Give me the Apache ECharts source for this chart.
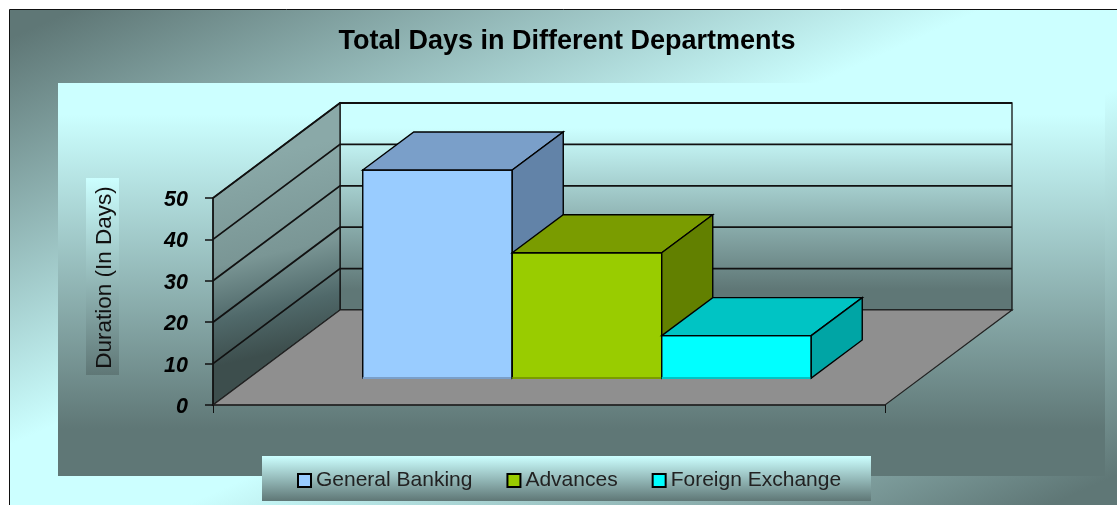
<!DOCTYPE html>
<html>
<head>
<meta charset="utf-8">
<title>Total Days in Different Departments</title>
<script src="https://cdn.jsdelivr.net/npm/echarts@6/dist/echarts.min.js"></script>
<style>
html, body { margin: 0; padding: 0; background: #fff; }
#chart { width: 1117px; height: 505px; }
</style>
</head>
<body>
<div id="chart"></div>
<script>
var categories = ['Departments'];
var yTicks = [0, 10, 20, 30, 40, 50];
var generalBanking = [50];
var advances = [30];
var foreignExchange = [10];

// 3D look of the Excel chart
var DEPTH_X = 127, DEPTH_Y = -95;
var BAR_W = 149.5, BAR_SHIFT_X = 38, BAR_SHIFT_Y = -27, BAR_DX = 51, BAR_DY = -38;
var LIGHT = '#ccffff', DARK = '#5f7776';

var chart = echarts.init(document.getElementById('chart'), null, { renderer: 'canvas' });

function vGrad(y1, y2, stops) {
  return new echarts.graphic.LinearGradient(0, y1, 0, y2, stops || [
    { offset: 0, color: LIGHT }, { offset: 1, color: DARK }
  ], true);
}

// dark in the top left and bottom right corners, light along the other diagonal
function outerGrad(x, y, w, h) {
  var s = 1 / (1 / (w * w) + 1 / (h * h));
  var cx = x + w / 2, cy = y + h / 2;
  return new echarts.graphic.LinearGradient(cx - s / w, cy - s / h, cx + s / w, cy + s / h, [
    { offset: 0, color: DARK }, { offset: 0.03, color: DARK },
    { offset: 0.44, color: LIGHT }, { offset: 0.58, color: LIGHT },
    { offset: 0.97, color: DARK }, { offset: 1, color: DARK }
  ], true);
}

function poly(points, fill, stroke, lw) {
  return {
    type: 'polygon',
    shape: { points: points },
    style: { fill: fill, stroke: stroke || 'none', lineWidth: lw || 1 }
  };
}

function renderPlanes(params, api) {
  var base = api.coord([0, 0]);
  var top = api.coord([0, yTicks[yTicks.length - 1]]);
  var half = api.size([1, 0])[0] / 2;
  var l = base[0] - half, r = base[0] + half, b = base[1], t = top[1];
  var dx = DEPTH_X, dy = DEPTH_Y;
  var wallGrad = new echarts.graphic.LinearGradient(l + 40, t - 40, l + 95, b - 10, [
    { offset: 0, color: '#8aa9a8' }, { offset: 0.4, color: '#7a9695' },
    { offset: 0.62, color: '#50696a' }, { offset: 0.8, color: '#3d4e4d' }, { offset: 1, color: '#3d4e4d' }
  ], true);
  return {
    type: 'group',
    children: [
      poly([[l + dx, t + dy], [r + dx, t + dy], [r + dx, b + dy], [l + dx, b + dy]],
        vGrad(t + dy, b + dy, [
          { offset: 0, color: LIGHT }, { offset: 0.12, color: LIGHT },
          { offset: 0.9, color: DARK }, { offset: 1, color: DARK }
        ]), '#111', 1.3),
      poly([[l, t], [l + dx, t + dy], [l + dx, b + dy], [l, b]], wallGrad, '#111', 1.2),
      poly([[l, b], [r, b], [r + dx, b + dy], [l + dx, b + dy]], '#8f8f8f', '#222', 1.2)
    ]
  };
}

function renderGrid(params, api) {
  var p = api.coord([0, api.value(1)]);
  var half = api.size([1, 0])[0] / 2;
  var l = p[0] - half, r = p[0] + half;
  return {
    type: 'polyline',
    shape: { points: [[l, p[1]], [l + DEPTH_X, p[1] + DEPTH_Y], [r + DEPTH_X, p[1] + DEPTH_Y]] },
    style: { fill: 'none', stroke: '#111', lineWidth: 1.8 }
  };
}

function barRenderer(index, front, topColor, side) {
  return function (params, api) {
    var zero = api.coord([api.value(0), 0]);
    var val = api.coord([api.value(0), api.value(1)]);
    var x0 = zero[0] + BAR_SHIFT_X + (index - 1.5) * BAR_W;
    var x1 = x0 + BAR_W;
    var y0 = zero[1] + BAR_SHIFT_Y;
    var y1 = val[1] + BAR_SHIFT_Y - 1;
    var dx = BAR_DX, dy = BAR_DY;
    return {
      type: 'group',
      children: [
        poly([[x0, y1], [x1, y1], [x1, y0], [x0, y0]], front, '#000', 1.4),
        {
          type: 'line',
          shape: { x1: x0, y1: y0, x2: x1, y2: y0 },
          style: { stroke: topColor, lineWidth: 2 }
        },
        poly([[x0, y1], [x0 + dx, y1 + dy], [x1 + dx, y1 + dy], [x1, y1]], topColor, '#000', 1.4),
        poly([[x1, y1], [x1 + dx, y1 + dy], [x1 + dx, y0 + dy], [x1, y0]], side, '#000', 1.4)
      ]
    };
  };
}

function barSeries(name, values, index, front, topColor, side) {
  return {
    name: name,
    type: 'custom',
    renderItem: barRenderer(index, front, topColor, side),
    encode: { x: 0, y: 1 },
    itemStyle: { color: front, borderColor: '#000', borderWidth: 2 },
    data: values.map(function (v, i) { return [i, v]; }),
    z: 3 + index
  };
}

chart.setOption({
  animation: false,
  backgroundColor: '#fff',
  textStyle: { fontFamily: '"Liberation Sans", Arial, sans-serif' },
  graphic: {
    elements: [
      {
        type: 'rect', z: -10,
        shape: { x: 9.5, y: 9.5, width: 1112, height: 500 },
        style: { fill: outerGrad(9, 9, 1108, 496), stroke: '#111', lineWidth: 1 }
      },
      {
        type: 'rect', z: -9,
        shape: { x: 58, y: 83, width: 1047, height: 393 },
        style: {
          fill: vGrad(83, 476, [
            { offset: 0, color: LIGHT }, { offset: 0.08, color: LIGHT },
            { offset: 0.88, color: DARK }, { offset: 1, color: DARK }
          ])
        }
      },
      {
        type: 'rect', z: -8,
        shape: { x: 86, y: 178, width: 33, height: 197 },
        style: { fill: vGrad(178, 375) }
      },
      {
        type: 'rect', z: -8,
        shape: { x: 262, y: 456, width: 609, height: 45 },
        style: { fill: vGrad(456, 501) }
      }
    ]
  },
  title: {
    text: 'Total Days in Different Departments',
    left: 562, top: 23, textAlign: 'center',
    textStyle: { fontSize: 27, fontWeight: 'bold', color: '#000', fontFamily: '"Liberation Sans", Arial, sans-serif' }
  },
  legend: {
    left: 297, top: 470,
    itemWidth: 13, itemHeight: 13, itemGap: 34,
    padding: 0,
    icon: 'rect',
    data: ['General Banking', 'Advances', 'Foreign Exchange'],
    textStyle: { fontSize: 21, color: '#222', fontFamily: '"Liberation Sans", Arial, sans-serif' }
  },
  grid: { left: 213, top: 198, width: 672, height: 207, containLabel: false },
  xAxis: {
    type: 'category',
    data: categories,
    z: 8,
    axisLine: { show: true, lineStyle: { color: '#222', width: 1.5 } },
    axisTick: { show: true, length: 8, lineStyle: { color: '#111' } },
    axisLabel: { show: false },
    splitLine: { show: false }
  },
  yAxis: {
    type: 'value',
    min: 0, max: 50, interval: 10,
    z: 8,
    name: 'Duration (In Days)',
    nameLocation: 'middle',
    nameRotate: 90,
    nameGap: 97,
    nameTextStyle: {
      fontSize: 22.5, color: '#111', padding: [0, 0, 0, 48],
      fontFamily: '"Liberation Sans", Arial, sans-serif'
    },
    axisLine: { show: true, lineStyle: { color: '#111', width: 1.5 } },
    axisTick: { show: true, length: 8, inside: false, lineStyle: { color: '#111', width: 1.5 } },
    axisLabel: {
      margin: 25,
      formatter: '{v|{value}}',
      rich: {
        v: {
          padding: [4, 0, 0, 0],
          fontSize: 21.5, fontWeight: 'bold', fontStyle: 'italic', color: '#000',
          fontFamily: '"Liberation Sans", Arial, sans-serif'
        }
      }
    },
    splitLine: { show: false }
  },
  series: [
    { name: 'planes', type: 'custom', renderItem: renderPlanes, encode: { x: 0, y: 1 }, data: [[0, 0]], z: 1, silent: true },
    { name: 'gridlines', type: 'custom', renderItem: renderGrid, encode: { x: 0, y: 1 },
      data: yTicks.slice(1).map(function (v) { return [0, v]; }), z: 2, silent: true },
    barSeries('General Banking', generalBanking, 0, '#99ccff', '#7a9fc9', '#6283a8'),
    barSeries('Advances', advances, 1, '#99cc00', '#7a9c00', '#628000'),
    barSeries('Foreign Exchange', foreignExchange, 2, '#00ffff', '#00c4c4', '#00a5a5')
  ]
});
</script>
</body>
</html>
